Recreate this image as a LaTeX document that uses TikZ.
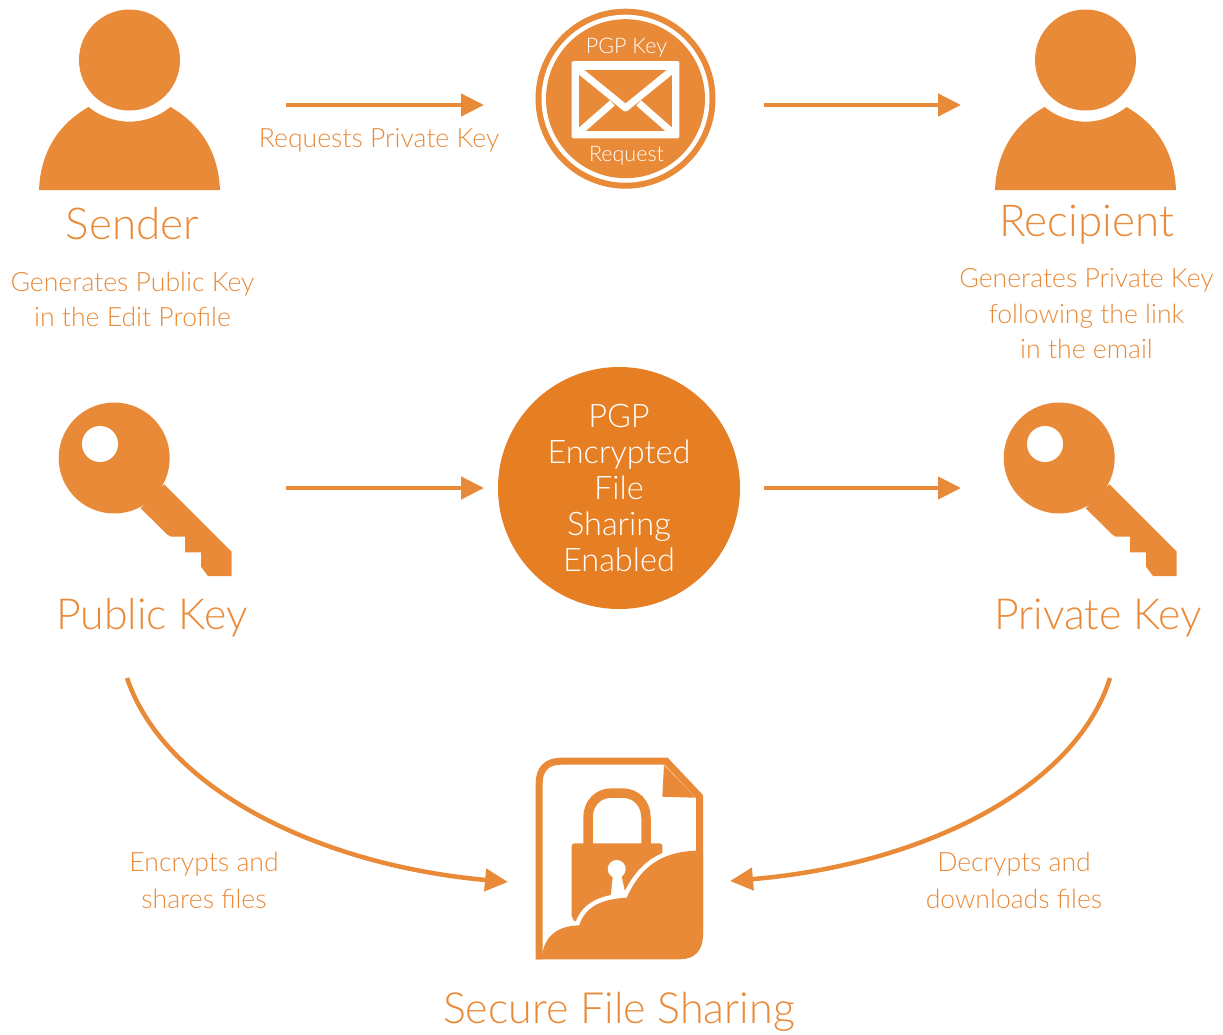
\documentclass[tikz,border=0pt]{standalone}
\usepackage{fontspec}
\setmainfont{Lato Light}
\usetikzlibrary{arrows.meta}
\definecolor{iconorange}{HTML}{E98A38}
\definecolor{discorange}{HTML}{E67F24}
\tikzset{
    flowline/.style={line width=4.5pt, draw=iconorange, -{Triangle[length=23pt,width=22pt]}},
    bigtext/.style={text=iconorange, font=\fontsize{44}{48}\selectfont},
    smalltext/.style={text=iconorange, align=center, font=\fontsize{26.6}{35.5}\selectfont},
    pics/personicon/.style={code={
        \fill[iconorange] (0,0) circle (50.5);
        \fill[iconorange] (-90.5,130) .. controls (-89,95) and (-74,66) .. (-41,47)
            .. controls (-30,56) and (-15,61.7) .. (0,61.7)
            .. controls (15,61.7) and (30,56) .. (41,47)
            .. controls (74,66) and (89,95) .. (90.5,130) -- cycle;
    }},
    pics/keyicon/.style={code={
        \fill[iconorange] (0,0) circle (55.5);
        \fill[iconorange] (50.1,26.3) -- (117.5,93.7) -- (117.5,118) -- (93.8,118) -- (86.8,108.7)
            -- (86.8,94.3) -- (70.8,94.3) -- (70.8,78.7) -- (56.5,78.7) -- (52.5,76) -- (26.5,50.3) -- cycle;
        \fill[white] (-14.2,-14) circle (18);
    }}
}
\begin{document}
\begin{tikzpicture}[x=1pt, y=-1pt]
    \useasboundingbox (0,0) rectangle (1223,1034);

    % people
    \pic at (129.5,60) {personicon};
    \pic at (1085.5,60) {personicon};
    \node[bigtext] (sender) at (132.5,224) {Sender};
    \node[bigtext] (recipient) at (1087,225) {Recipient};
    \node[smalltext] (senderinfo) at (132.5,299.5) {Generates Public Key\\in the Edit Profile};
    \node[smalltext] (recipientinfo) at (1086.5,314) {Generates Private Key\\following the link\\in the email};

    % request badge
    \fill[iconorange] (625.5,98.7) circle (90);
    \fill[white] (625.5,98.7) circle (84);
    \fill[iconorange] (625.5,98.7) circle (79.5);
    \fill[white, rounded corners=1.5pt] (571.7,61) rectangle (679.3,138.3);
    \fill[iconorange] (579,70) rectangle (672,131);
    \draw[white, line width=7pt, line join=round] (577,68.5) -- (625.5,108) -- (674,68.5);
    \draw[white, line width=7pt] (577,134) -- (612.3,103);
    \draw[white, line width=7pt] (674,134) -- (638.7,103);
    \node[text=white, font=\fontsize{21.5}{24}\selectfont] (badgetop) at (626.5,48) {PGP Key};
    \node[text=white, font=\fontsize{21.5}{24}\selectfont] (badgebottom) at (626.5,156) {Request};

    % keys
    \pic at (114.2,458) {keyicon};
    \pic at (1059.2,458) {keyicon};
    \node[bigtext, font=\fontsize{42.8}{48}\selectfont] (publickey) at (152,618) {Public Key};
    \node[bigtext, font=\fontsize{42.8}{48}\selectfont] (privatekey) at (1098,618) {Private Key};

    % centre disc
    \node[circle, fill=discorange, minimum size=242pt, inner sep=0pt, text=white, align=center,
        font=\fontsize{32.5}{36}\selectfont] (pgpdisc) at (619,488) {PGP\\Encrypted\\File\\Sharing\\Enabled};

    % arrows
    \coordinate (reqstart) at (286,105);
    \coordinate (reqend) at (484,105);
    \coordinate (fwdstart) at (764,105);
    \coordinate (fwdend) at (961,105);
    \coordinate (pubstart) at (286,488);
    \coordinate (pubend) at (484,488);
    \coordinate (privstart) at (764,488);
    \coordinate (privend) at (961,488);
    \draw[flowline] (reqstart) -- (reqend);
    \draw[flowline] (fwdstart) -- (fwdend);
    \draw[flowline] (pubstart) -- (pubend);
    \draw[flowline] (privstart) -- (privend);
    \node[smalltext] (reqlabel) at (379,140) {Requests Private Key};

    % file icon
    \fill[iconorange] (571.7,846) .. controls (571.7,844) and (573,843.3) .. (575,843.3) -- (659,843.3)
        .. controls (661,843.3) and (662.3,844) .. (662.3,846) -- (662.3,925) -- (576,925)
        -- (571.7,916) -- cycle;
    \draw[iconorange, line width=9.5pt] (588,845) -- (588,818)
        .. controls (588,803) and (598,793) .. (612,793) -- (622,793)
        .. controls (636,793) and (646,803) .. (646,818) -- (646,845);
    \fill[white] (616.7,869) circle (9);
    \fill[white] (613,874) -- (621,874) -- (626,896) -- (610.7,897) -- cycle;
    \draw[white, line width=9pt] (542.3,953) .. controls (546,935) and (558,926) .. (579.3,925.3)
        .. controls (584,910) and (597,899) .. (626.7,897.7)
        .. controls (640,868) and (660,852) .. (695.7,850.7);
    \fill[iconorange] (542.3,953) .. controls (546,935) and (558,926) .. (579.3,925.3)
        .. controls (584,910) and (597,899) .. (626.7,897.7)
        .. controls (640,868) and (660,852) .. (695.7,850.7)
        -- (703,850.7) -- (703,935) .. controls (703,950) and (695,959.3) .. (680,959.3)
        -- (535.7,959.3) -- cycle;
    \fill[white] (703,796) rectangle (710,852);
    \draw[iconorange, line width=7pt, line join=miter] (539.2,959.3) -- (539.2,783)
        .. controls (539.2,769) and (547,761.2) .. (561,761.2) -- (666.2,761.2) -- (699.5,796.5) -- (699.5,935);
    \fill[iconorange] (664,765) -- (662.3,796.7) -- (695.7,797.7) -- cycle;
    \node[bigtext, font=\fontsize{43}{48}\selectfont] (filelabel) at (619,1012) {Secure File Sharing};

    % curved arrows
    \coordinate (encstart) at (127,678);
    \coordinate (encend) at (508,882);
    \coordinate (decstart) at (1110,678);
    \coordinate (decend) at (730,881);
    \draw[flowline] (encstart) .. controls (165,790) and (320,865) .. (encend);
    \draw[flowline] (decstart) .. controls (1075,790) and (920,865) .. (decend);
    \node[smalltext, font=\fontsize{26.6}{37}\selectfont] (enclabel) at (204,880) {Encrypts and\\shares files};
    \node[smalltext, font=\fontsize{26.6}{37}\selectfont] (declabel) at (1014,880) {Decrypts and\\downloads files};
\end{tikzpicture}
\end{document}
